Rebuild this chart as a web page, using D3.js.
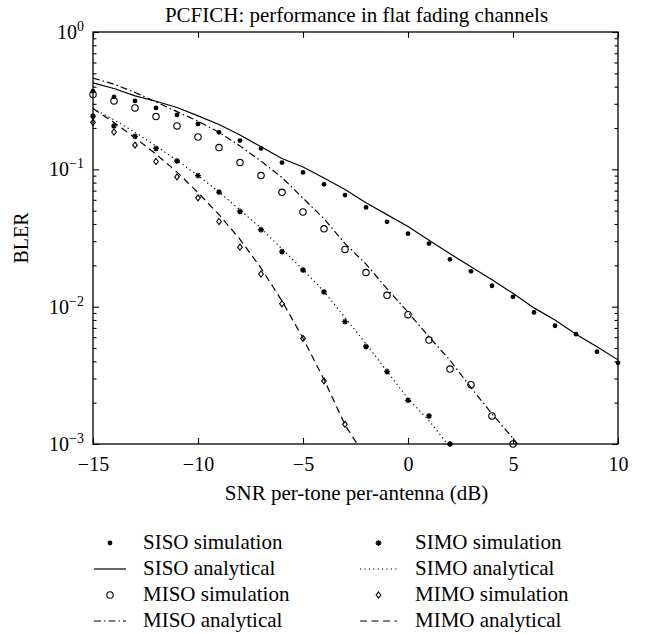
<!DOCTYPE html>
<html><head><meta charset="utf-8">
<script src="https://cdn.jsdelivr.net/npm/d3@7"></script>
<style>
body{margin:0;background:#fff}
svg{display:block}
text{font-family:"Liberation Serif","Times New Roman",serif;fill:#000}
</style>
</head><body>
<svg id="chart" width="646" height="634"></svg>
<script>
// ---------------- data ----------------
const titleText = "PCFICH: performance in flat fading channels";
const xLabelText = "SNR per-tone per-antenna (dB)";
const yLabelText = "BLER";
const xTickValues = [-15, -10, -5, 0, 5, 10];
const yTickExponents = [0, -1, -2, -3];

const sisoSimX = [-15,-14,-13,-12,-11,-10,-9,-8,-7,-6,-5,-4,-3,-2,-1,0,1,2,3,4,5,6,7,8,9,10];
const sisoSimY = [0.371,0.337,0.315,0.280,0.249,0.214,0.186,0.162,0.142,0.112,0.095,0.0778,0.065,0.0528,0.0415,0.034,0.0288,0.0221,0.0181,0.0142,0.0118,0.00908,0.00726,0.0063,0.0047,0.0039];
const sisoAnaX = [-15,-14,-13,-12,-11,-10,-9,-8,-7,-6,-5,-4,-3,-2,-1,0,1,2,3,4,5,6,7,8,9,10];
const sisoAnaY = [0.427,0.388,0.343,0.313,0.282,0.245,0.212,0.178,0.146,0.120,0.104,0.0865,0.0714,0.0571,0.0468,0.0384,0.0305,0.0243,0.0195,0.0157,0.0125,0.0098,0.0080,0.0063,0.0051,0.0041];

const misoSimX = [-15,-14,-13,-12,-11,-10,-9,-8,-7,-6,-5,-4,-3,-2,-1,0,1,2,3,4,5];
const misoSimY = [0.351,0.315,0.280,0.242,0.207,0.172,0.144,0.112,0.090,0.068,0.0489,0.0369,0.0261,0.0177,0.0121,0.00875,0.00571,0.00351,0.0027,0.0016,0.001];
const misoAnaX = [-15,-14,-13,-12,-11,-10,-9,-8,-7,-6,-5,-4,-3,-2,-1,0,1,2,3,4,5,6];
const misoAnaY = [0.462,0.417,0.363,0.310,0.263,0.224,0.186,0.148,0.115,0.0871,0.0617,0.0437,0.0288,0.0204,0.0135,0.00912,0.00603,0.00407,0.00257,0.00166,0.0011,0.00071];

const simoSimX = [-15,-14,-13,-12,-11,-10,-9,-8,-7,-6,-5,-4,-3,-2,-1,0,1,2];
const simoSimY = [0.244,0.207,0.174,0.142,0.115,0.090,0.0683,0.0493,0.0363,0.0252,0.0185,0.0128,0.00778,0.00513,0.00337,0.00208,0.0016,0.001];
const simoAnaX = [-15,-14,-13,-12,-11,-10,-9,-8,-7,-6,-5,-4,-3,-2,-1,0,1,2];
const simoAnaY = [0.277,0.229,0.186,0.148,0.116,0.0902,0.0684,0.0507,0.0372,0.0263,0.0186,0.0129,0.00832,0.00537,0.00339,0.00214,0.00148,0.00095];

const mimoSimX = [-15,-14,-13,-12,-11,-10,-9,-8,-7,-6,-5,-4,-3];
const mimoSimY = [0.220,0.187,0.150,0.114,0.088,0.062,0.0417,0.0271,0.0173,0.0105,0.00587,0.00288,0.00139];
const mimoAnaX = [-15,-14,-13,-12,-11,-10,-9,-8,-7,-6,-5,-4,-3,-2];
const mimoAnaY = [0.277,0.219,0.170,0.129,0.0955,0.0676,0.0468,0.0309,0.0191,0.0110,0.00589,0.00295,0.00138,0.00079];

const legendLabels = ["SISO simulation","SISO analytical","MISO simulation","MISO analytical",
                      "SIMO simulation","SIMO analytical","MIMO simulation","MIMO analytical"];

// ---------------- layout ----------------
const svg = d3.select("#chart");
const L = 93, R = 618, T = 32, B = 444;
const x = d3.scaleLinear().domain([-15, 10]).range([L, R]);
const y = d3.scaleLog().domain([1e-3, 1]).range([B, T]);

svg.append("defs").append("clipPath").attr("id","clip")
  .append("rect").attr("x", L).attr("y", T).attr("width", R - L).attr("height", B - T);

const lineW = 1.2;
const styles = {
  sisoAna: "none",
  misoAna: "7,3,1.5,3",
  simoAna: "1.2,3.2",
  mimoAna: "7,4.5"
};

// custom star (asterisk) and diamond symbols
const starSym = {
  draw(ctx, size) {
    const r = Math.sqrt(size) / 2;
    ctx.moveTo(-r, 0); ctx.lineTo(r, 0);
    ctx.moveTo(0, -r); ctx.lineTo(0, r);
    const d = r * 0.7;
    ctx.moveTo(-d, -d); ctx.lineTo(d, d);
    ctx.moveTo(-d, d); ctx.lineTo(d, -d);
  }
};
const diamondSym = {
  draw(ctx, size) {
    const r = Math.sqrt(size) / 2;
    ctx.moveTo(0, -r * 1.1); ctx.lineTo(r * 0.85, 0);
    ctx.lineTo(0, r * 1.1); ctx.lineTo(-r * 0.85, 0); ctx.closePath();
  }
};
const starPath = d3.symbol().type(starSym).size(34)();
const diamondPath = d3.symbol().type(diamondSym).size(30)();

function drawMarker(g, kind, cx, cy) {
  if (kind === "dot") {
    g.append("circle").attr("cx", cx).attr("cy", cy).attr("r", 2.4).attr("fill", "#000");
  } else if (kind === "circle") {
    g.append("circle").attr("cx", cx).attr("cy", cy).attr("r", 3.2)
      .attr("fill", "none").attr("stroke", "#000").attr("stroke-width", 1.1);
  } else if (kind === "star") {
    g.append("path").attr("d", starPath).attr("transform", `translate(${cx},${cy})`)
      .attr("fill", "none").attr("stroke", "#000").attr("stroke-width", 1.3);
  } else if (kind === "diamond") {
    g.append("path").attr("d", diamondPath).attr("transform", `translate(${cx},${cy})`)
      .attr("fill", "none").attr("stroke", "#000").attr("stroke-width", 1.1);
  }
}

// ---------------- analytical lines ----------------
const lineGen = d3.line().x(d => x(d[0])).y(d => y(d[1]));
const linesG = svg.append("g").attr("clip-path", "url(#clip)");
function addLine(xs, ys, dash) {
  linesG.append("path").datum(xs.map((v, i) => [v, ys[i]]))
    .attr("d", lineGen).attr("fill", "none").attr("stroke", "#000")
    .attr("stroke-width", lineW).attr("stroke-dasharray", dash);
}
addLine(sisoAnaX, sisoAnaY, styles.sisoAna);
addLine(misoAnaX, misoAnaY, styles.misoAna);
addLine(simoAnaX, simoAnaY, styles.simoAna);
addLine(mimoAnaX, mimoAnaY, styles.mimoAna);

// ---------------- simulation markers ----------------
const markG = svg.append("g");
sisoSimX.forEach((v, i) => drawMarker(markG, "dot", x(v), y(sisoSimY[i])));
misoSimX.forEach((v, i) => drawMarker(markG, "circle", x(v), y(misoSimY[i])));
simoSimX.forEach((v, i) => drawMarker(markG, "star", x(v), y(simoSimY[i])));
mimoSimX.forEach((v, i) => drawMarker(markG, "diamond", x(v), y(mimoSimY[i])));

// ---------------- axes ----------------
const axG = svg.append("g");
axG.append("rect").attr("x", L).attr("y", T).attr("width", R - L).attr("height", B - T)
  .attr("fill", "none").attr("stroke", "#000").attr("stroke-width", 1.3);

const bottomAxis = axG.append("g").attr("transform", `translate(0,${B})`)
  .call(d3.axisBottom(x).tickValues(xTickValues).tickSize(-6).tickPadding(13)
        .tickFormat(d => d < 0 ? "\u2212" + Math.abs(d) : d));
axG.append("g").attr("transform", `translate(0,${T})`)
  .call(d3.axisTop(x).tickValues(xTickValues).tickSize(-6).tickFormat(""));
const majorY = yTickExponents.map(e => Math.pow(10, e));
const minorY = y.ticks().filter(v => !majorY.some(m => Math.abs(m - v) / v < 1e-6));
axG.append("g").attr("transform", `translate(${L},0)`)
  .call(d3.axisLeft(y).tickValues(majorY).tickSize(-6).tickFormat(""));
axG.append("g").attr("transform", `translate(${L},0)`)
  .call(d3.axisLeft(y).tickValues(minorY).tickSize(-3.5).tickFormat(""));
axG.append("g").attr("transform", `translate(${R},0)`)
  .call(d3.axisRight(y).tickValues(majorY).tickSize(-6).tickFormat(""));
axG.append("g").attr("transform", `translate(${R},0)`)
  .call(d3.axisRight(y).tickValues(minorY).tickSize(-3.5).tickFormat(""));
axG.selectAll(".domain").remove();
axG.selectAll(".tick line").attr("stroke", "#000").attr("stroke-width", 1.1);
bottomAxis.selectAll("text").attr("font-size", 20)
  .attr("font-family", '"Liberation Serif","Times New Roman",serif').attr("fill", "#000");

// y tick labels with superscripts
yTickExponents.forEach(e => {
  const t = axG.append("text").attr("x", 84).attr("y", y(Math.pow(10, e)) + 7)
    .attr("text-anchor", "end").attr("font-size", 20);
  t.append("tspan").text("10");
  t.append("tspan").attr("dy", -8).attr("font-size", 14).text(e < 0 ? "\u2212" + Math.abs(e) : String(e));
});

// title and axis labels
svg.append("text").attr("x", (L + R) / 2 + 1).attr("y", 22).attr("text-anchor", "middle")
  .attr("font-size", 21).text(titleText);
svg.append("text").attr("x", (L + R) / 2 + 1).attr("y", 500).attr("text-anchor", "middle")
  .attr("font-size", 21).text(xLabelText);
svg.append("text").attr("transform", `translate(28,${(T + B) / 2}) rotate(-90)`)
  .attr("text-anchor", "middle").attr("font-size", 20).text(yLabelText);

// ---------------- legend ----------------
const legG = svg.append("g");
const legRows = [549, 575, 601, 627];
const legCols = [{x0: 94, x1: 126, tx: 143}, {x0: 360, x1: 397, tx: 415}];
const legItems = [
  {col: 0, row: 0, kind: "dot"},
  {col: 0, row: 1, dash: styles.sisoAna},
  {col: 0, row: 2, kind: "circle"},
  {col: 0, row: 3, dash: styles.misoAna},
  {col: 1, row: 0, kind: "star"},
  {col: 1, row: 1, dash: styles.simoAna},
  {col: 1, row: 2, kind: "diamond"},
  {col: 1, row: 3, dash: styles.mimoAna}
];
legItems.forEach((it, i) => {
  const c = legCols[it.col], by = legRows[it.row], cy = by - 6;
  if (it.kind) drawMarker(legG, it.kind, (c.x0 + c.x1) / 2, cy);
  else legG.append("line").attr("x1", c.x0).attr("x2", c.x1).attr("y1", cy).attr("y2", cy)
        .attr("stroke", "#000").attr("stroke-width", lineW).attr("stroke-dasharray", it.dash);
  legG.append("text").attr("x", c.tx).attr("y", by).attr("font-size", 21).text(legendLabels[i]);
});
</script>
</body></html>
